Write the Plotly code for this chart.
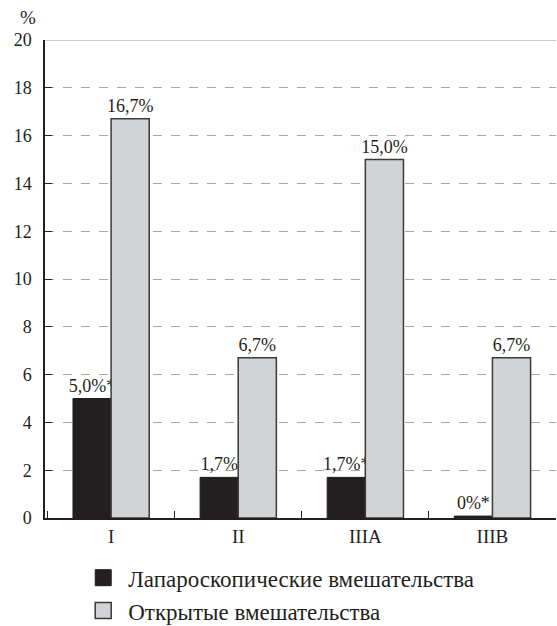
import plotly.graph_objects as go

categories = ["I", "II", "IIIA", "IIIB"]
lap_values = [5.0, 1.7, 1.7, 0.08]
lap_labels = ["5,0%*", "1,7%", "1,7%*", "0%*"]
open_values = [16.7, 6.7, 15.0, 6.7]
open_labels = ["16,7%", "6,7%", "15,0%", "6,7%"]
y_ticks = [0, 2, 4, 6, 8, 10, 12, 14, 16, 18, 20]
series_names = ["Лапароскопические вмешательства", "Открытые вмешательства"]

DARK = "#231f20"
LIGHT = "#d1d3d4"
EDGE = "#3a3a3a"
FONT = "'Liberation Serif', 'DejaVu Serif', serif"

fig = go.Figure()
fig.add_bar(x=categories, y=lap_values, text=lap_labels, textposition="outside",
            cliponaxis=False, constraintext="none",
            textfont=dict(family=FONT, size=18, color="#231f20"),
            marker=dict(color=DARK, line=dict(color=DARK, width=1)),
            showlegend=False)
fig.add_bar(x=categories, y=open_values, text=open_labels, textposition="outside",
            cliponaxis=False, constraintext="none",
            textfont=dict(family=FONT, size=18, color="#231f20"),
            marker=dict(color=LIGHT, line=dict(color=EDGE, width=1.5)),
            showlegend=False)
# legend swatches
fig.add_scatter(x=[None], y=[None], mode="markers", name=series_names[0],
                marker=dict(symbol="square", size=22, color=DARK, line=dict(color=DARK, width=1)))
fig.add_scatter(x=[None], y=[None], mode="markers", name=series_names[1],
                marker=dict(symbol="square", size=22, color=LIGHT, line=dict(color=EDGE, width=1.5)))

fig.update_layout(
    width=557, height=626,
    margin=dict(l=45, r=1, t=40, b=108, autoexpand=False),
    paper_bgcolor="white", plot_bgcolor="white",
    barmode="group", bargap=0.4, bargroupgap=0,
    font=dict(family=FONT, size=16, color="#231f20"),
    legend=dict(x=0.065, y=-0.08, xanchor="left", yanchor="top",
                font=dict(family=FONT, size=23, color="#231f20"),
                itemsizing="trace", tracegroupgap=0, itemwidth=40),
    annotations=[dict(text="%", x=-0.033, y=1.0, xref="paper", yref="paper",
                      xanchor="center", yanchor="bottom", yshift=10, showarrow=False,
                      font=dict(family=FONT, size=19, color="#231f20"))],
    shapes=[dict(type="line", xref="paper", yref="y", x0=0, x1=1, y0=20, y1=20,
                 line=dict(color="#9a9a9a", width=1.2))],
)
fig.update_xaxes(range=[-0.52, 3.5], showline=True, linecolor="#231f20", linewidth=1.5,
                 ticks="inside", tickson="boundaries", ticklen=7, tickcolor="#231f20",
                 tickfont=dict(family=FONT, size=19), showgrid=False)
fig.update_yaxes(range=[0, 20], tickvals=y_ticks, showline=True, linecolor="#231f20",
                 linewidth=1.5, ticks="inside", ticklen=7, tickcolor="#231f20",
                 showgrid=True, gridcolor="#a8a8a8", griddash="dash", gridwidth=1,
                 zeroline=False, ticklabelstandoff=8,
                 tickfont=dict(family=FONT, size=18))

fig.write_html("out.html", config={"displayModeBar": False},
               post_script="document.body.style.margin='0';document.body.style.overflow='hidden';")
